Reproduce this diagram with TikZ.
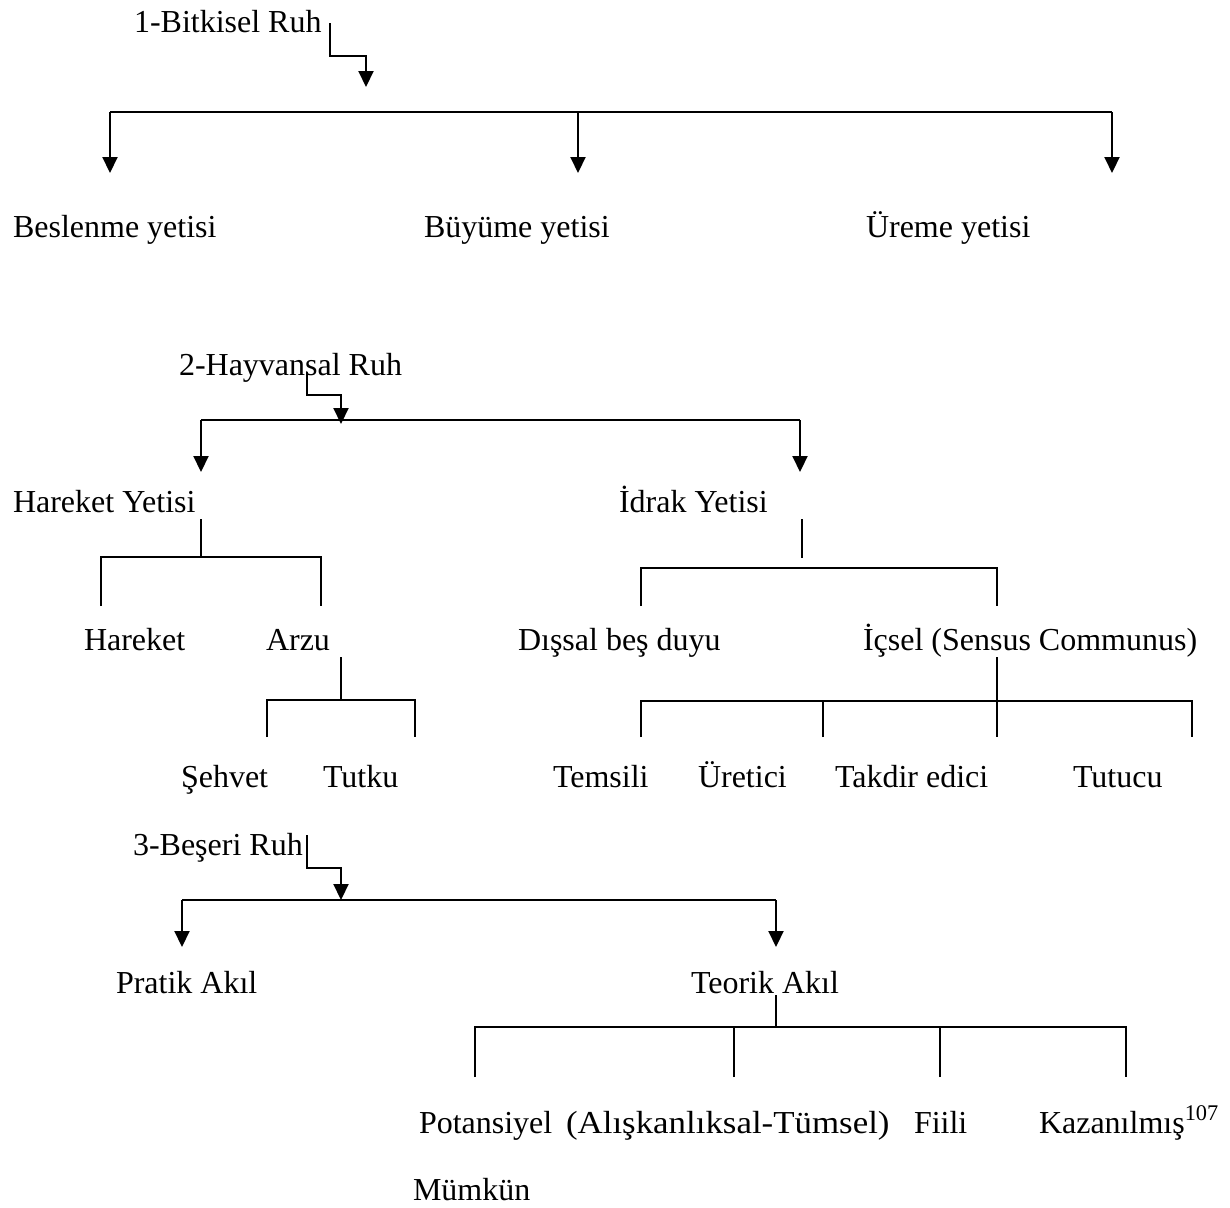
\documentclass[tikz,border=0pt]{standalone}
\usepackage{fontspec}
\setmainfont{Liberation Serif}
\usetikzlibrary{arrows.meta}
\begin{document}
\begin{tikzpicture}[x=0.5pt,y=-0.5pt,line width=1pt,
  lab/.style={anchor=base west,inner sep=0pt,font=\fontsize{16pt}{19pt}\selectfont},
  arr/.style={-{Triangle[width=7.5pt,length=8pt]}}]
  \useasboundingbox (0,0) rectangle (1230,1207);
  \node[lab] (b1) at (133,32) {1-Bitkisel Ruh};
  \node[lab] (bes) at (12,237) {Beslenme yetisi};
  \node[lab] (buy) at (423,237) {Büyüme yetisi};
  \node[lab] (ure) at (865,237) {Üreme yetisi};
  \node[lab] (h2) at (178,375) {2-Hayvansal Ruh};
  \node[lab] (hy) at (12,512) {Hareket Yetisi};
  \node[lab] (iy) at (618,512) {İdrak Yetisi};
  \node[lab] (hr) at (83,650) {Hareket};
  \node[lab] (ar) at (265,650) {Arzu};
  \node[lab] (dis) at (517,650) {Dışsal beş duyu};
  \node[lab] (ic) at (862,650) {İçsel (Sensus Communus)};
  \node[lab] (seh) at (180,787) {Şehvet};
  \node[lab] (tut) at (322,787) {Tutku};
  \node[lab] (tem) at (552,787) {Temsili};
  \node[lab] (ur) at (697,787) {Üretici};
  \node[lab] (tak) at (834,787) {Takdir edici};
  \node[lab] (tc) at (1072,787) {Tutucu};
  \node[lab] (b3) at (132,855) {3-Beşeri Ruh};
  \node[lab] (pr) at (115,993) {Pratik Akıl};
  \node[lab] (te) at (690,993) {Teorik Akıl};
  \node[lab] (pot) at (418,1133) {Potansiyel};
  \node[lab] (ali) at (565,1133) {\scalebox{1.09}[1]{(Alışkanlıksal-Tümsel)}};
  \node[lab] (fi) at (913,1133) {Fiili};
  \node[lab] (kaz) at (1038,1133) {Kazanılmış\textsuperscript{107}};
  \node[lab] (mum) at (412,1200) {Mümkün};

  \coordinate (b1s) at (330,23);
  \coordinate (b1t) at (366,87);
  \coordinate (k1l) at (110,112);
  \coordinate (k1m) at (578,112);
  \coordinate (k1r) at (1112,112);
  \coordinate (best) at (110,173);
  \coordinate (buyt) at (578,173);
  \coordinate (uret) at (1112,173);
  \draw[arr] (b1s) -- ++(0,33) -| (b1t);
  \draw (k1l) -- (k1r);
  \draw[arr] (k1l) -- (best);
  \draw[arr] (k1m) -- (buyt);
  \draw[arr] (k1r) -- (uret);

  \coordinate (h2s) at (307,372);
  \coordinate (h2t) at (341,424);
  \coordinate (k2l) at (201,420);
  \coordinate (k2r) at (800,420);
  \coordinate (hyt) at (201,472);
  \coordinate (iyt) at (800,472);
  \draw[arr] (h2s) -- ++(0,23) -| (h2t);
  \draw (k2l) -- (k2r);
  \draw[arr] (k2l) -- (hyt);
  \draw[arr] (k2r) -- (iyt);

  \coordinate (hys) at (201,519);
  \coordinate (hyb) at (201,557);
  \coordinate (hrt) at (101,606);
  \coordinate (art) at (321,606);
  \draw (hys) -- (hyb);
  \draw (hrt) |- (hyb) -| (art);
  \coordinate (ars) at (341,657);
  \coordinate (arb) at (341,700);
  \coordinate (seht) at (267,737);
  \coordinate (tutt) at (415,737);
  \draw (ars) -- (arb);
  \draw (seht) |- (arb) -| (tutt);

  \coordinate (iys) at (802,519);
  \coordinate (iyb) at (802,558);
  \coordinate (dist) at (641,606);
  \coordinate (ict) at (997,606);
  \draw (iys) -- (iyb);
  \draw (dist) |- (iyb |- 0,568) -| (ict);
  \coordinate (ics) at (997,657);
  \coordinate (tcb) at (997,737);
  \coordinate (temt) at (641,737);
  \coordinate (urt) at (823,737);
  \coordinate (tct) at (1192,737);
  \draw (ics) -- (tcb);
  \draw (temt) |- (tcb |- 0,701) -| (tct);
  \draw (urt) -- (urt |- 0,701);

  \coordinate (b3s) at (307,835);
  \coordinate (b3t) at (341,900);
  \coordinate (k3l) at (182,900);
  \coordinate (k3r) at (776,900);
  \coordinate (prt) at (182,947);
  \coordinate (tet) at (776,947);
  \draw[arr] (b3s) -- ++(0,33) -| (b3t);
  \draw (k3l) -- (k3r);
  \draw[arr] (k3l) -- (prt);
  \draw[arr] (k3r) -- (tet);

  \coordinate (tes) at (776,995);
  \coordinate (teb) at (776,1027);
  \coordinate (pott) at (475,1077);
  \coordinate (alit) at (734,1077);
  \coordinate (fit) at (940,1077);
  \coordinate (kazt) at (1126,1077);
  \draw (tes) -- (teb);
  \draw (pott) |- (teb) -| (kazt);
  \draw (alit) -- (alit |- teb);
  \draw (fit) -- (fit |- teb);
\end{tikzpicture}
\end{document}
